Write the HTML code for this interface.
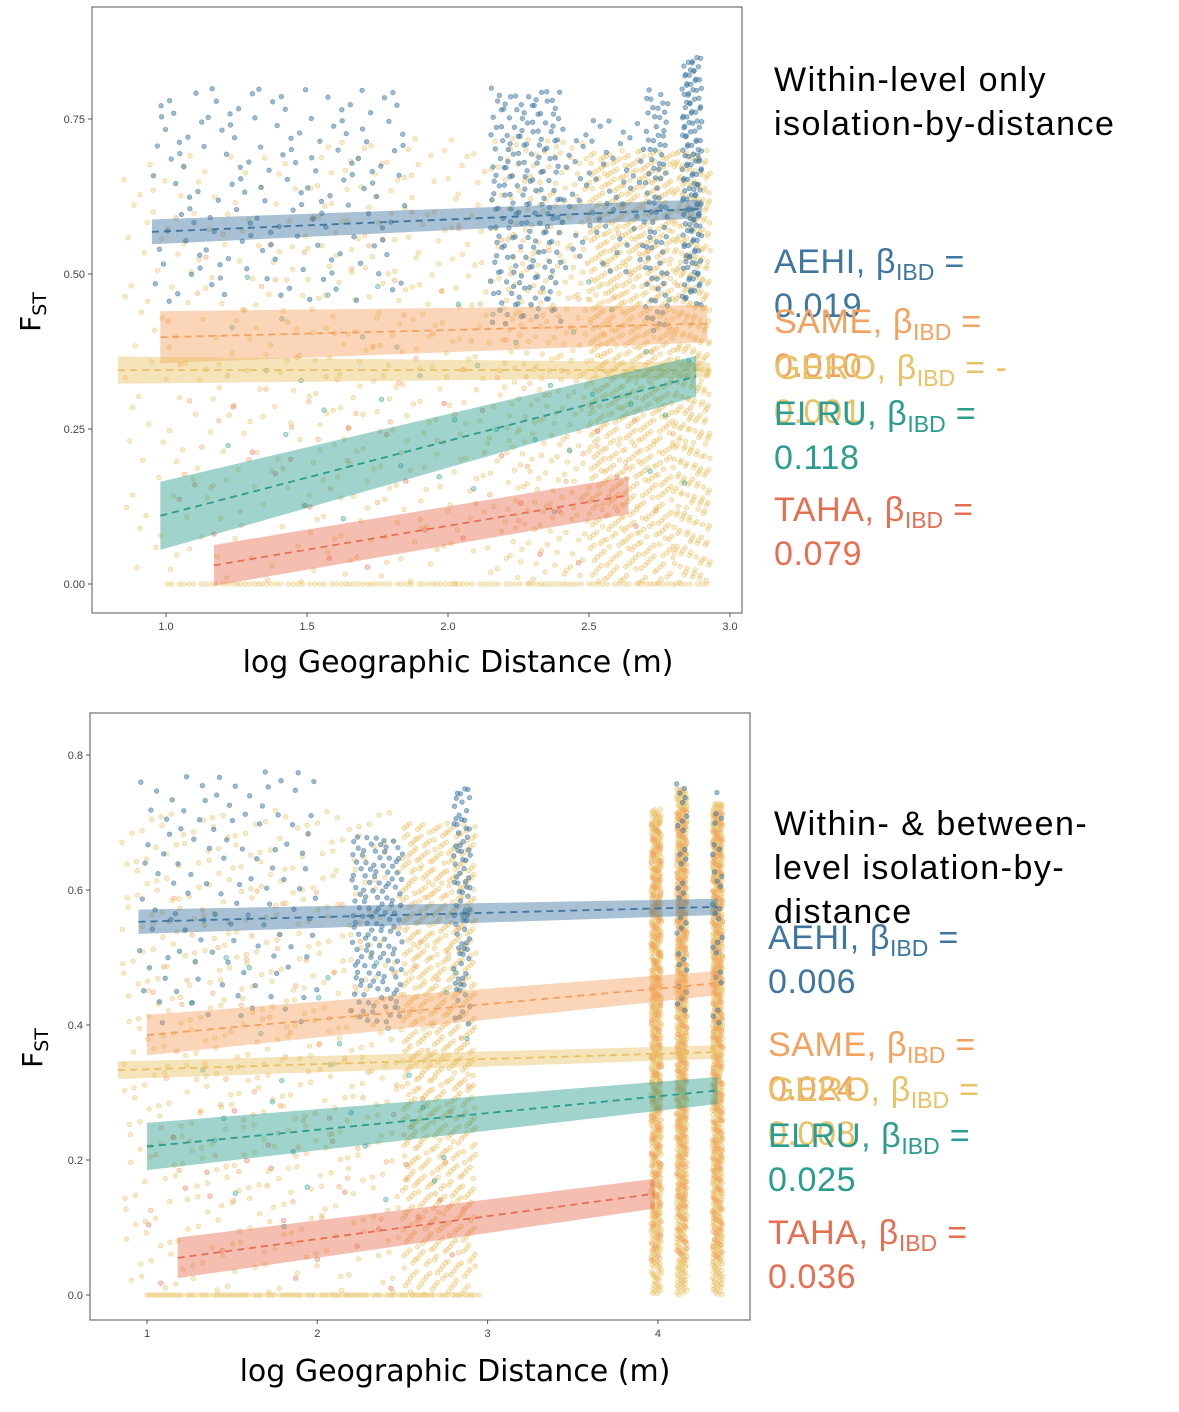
<!DOCTYPE html>
<html><head><meta charset="utf-8">
<style>
body{margin:0;width:1179px;height:1412px;background:#fff;position:relative;overflow:hidden;font-family:"Liberation Sans",sans-serif}
.lbl{position:absolute;font-size:34px;line-height:34px;white-space:nowrap;letter-spacing:0.6px}
.lbl sub{font-size:23px;vertical-align:-7px;letter-spacing:0}
.ttl{position:absolute;font-size:34px;line-height:44px;color:#000;left:774px;white-space:nowrap;letter-spacing:1.5px}
svg{position:absolute;left:0;top:0}
</style></head><body>
<svg id="chart" width="1179" height="1412"></svg>
<div class="ttl" style="top:58px">Within-level only<br>isolation-by-distance</div>
<div class="ttl" style="top:802px">Within- &amp; between-<br>level isolation-by-<br>distance</div>
<div class="lbl" style="left:774px;top:245px;color:#3e76a0">AEHI, β<sub>IBD</sub> =<br>0.019</div>
<div class="lbl" style="left:774px;top:305px;color:#f3a15f">SAME, β<sub>IBD</sub> =<br>0.010</div>
<div class="lbl" style="left:774px;top:351px;color:#e8c264">GERO, β<sub>IBD</sub> = -<br>0.001</div>
<div class="lbl" style="left:774px;top:397px;color:#2a9d8f">ELRU, β<sub>IBD</sub> =<br>0.118</div>
<div class="lbl" style="left:774px;top:493px;color:#e76f51">TAHA, β<sub>IBD</sub> =<br>0.079</div>
<div class="lbl" style="left:768px;top:921px;color:#3e76a0">AEHI, β<sub>IBD</sub> =<br>0.006</div>
<div class="lbl" style="left:768px;top:1028px;color:#f3a15f">SAME, β<sub>IBD</sub> =<br>0.024</div>
<div class="lbl" style="left:768px;top:1073px;color:#e8c264">GERO, β<sub>IBD</sub> =<br>0.008</div>
<div class="lbl" style="left:768px;top:1119px;color:#2a9d8f">ELRU, β<sub>IBD</sub> =<br>0.025</div>
<div class="lbl" style="left:768px;top:1216px;color:#e76f51">TAHA, β<sub>IBD</sub> =<br>0.036</div>
<script>
// ---- data ----
const colors = {AEHI:"#3e76a0",SAME:"#f3a15f",GERO:"#e8c264",ELRU:"#2a9d8f",TAHA:"#e76f51"};
const species = ["AEHI","SAME","GERO","ELRU","TAHA"];
const p1xTicks = [1.0,1.5,2.0,2.5,3.0];
const p1xTickLabels = ["1.0","1.5","2.0","2.5","3.0"];
const p1yTicks = [0,0.25,0.5,0.75];
const p1yTickLabels = ["0.00","0.25","0.50","0.75"];
const p2xTicks = [1,2,3,4];
const p2xTickLabels = ["1","2","3","4"];
const p2yTicks = [0,0.2,0.4,0.6,0.8];
const p2yTickLabels = ["0.0","0.2","0.4","0.6","0.8"];
// regression fits: [x0, x1, y0, y1, halfwidth0, halfwidth1]
const p1Fits = {
 AEHI:[0.95,2.9,0.568,0.605,0.02,0.015],
 SAME:[0.98,2.92,0.398,0.42,0.042,0.03],
 GERO:[0.83,2.93,0.345,0.345,0.022,0.012],
 ELRU:[0.98,2.88,0.11,0.335,0.055,0.033],
 TAHA:[1.17,2.64,0.03,0.143,0.033,0.03]};
const p2Fits = {
 AEHI:[0.95,4.35,0.553,0.575,0.018,0.012],
 SAME:[1.0,4.35,0.385,0.462,0.03,0.018],
 GERO:[0.83,4.35,0.333,0.36,0.013,0.01],
 ELRU:[1.0,4.35,0.22,0.303,0.035,0.02],
 TAHA:[1.18,3.98,0.055,0.15,0.03,0.022]};
// point clouds (estimated density regions): [x0,x1,count,y0,y1,species]
const p1Clouds = [
 [0.85,1.5,150,0,0.7,"GERO"],[1.5,2.2,260,0,0.72,"GERO"],[2.2,2.5,280,0,0.72,"GERO"],
 [2.5,2.8,850,0,0.7,"GERO"],[2.8,2.93,380,0,0.7,"GERO"],[1.0,2.93,110,0,0,"GERO"],
 [1.0,2.9,90,0.1,0.6,"SAME"],[1.2,2.9,40,0.1,0.5,"ELRU"],[1.0,2.7,25,0,0.3,"TAHA"],
 [0.95,1.85,150,0.45,0.8,"AEHI"],[2.15,2.4,190,0.42,0.8,"AEHI"],[2.4,2.7,60,0.5,0.75,"AEHI"],
 [2.7,2.78,80,0.4,0.8,"AEHI"],[2.83,2.9,150,0.45,0.85,"AEHI"]];
const p2Clouds = [
 [0.85,2.5,480,0,0.72,"GERO"],[2.5,2.93,750,0,0.7,"GERO"],[1.0,2.95,110,0,0,"GERO"],
 [3.96,4.02,600,0,0.72,"GERO"],[4.11,4.17,700,0,0.75,"GERO"],[4.32,4.38,700,0,0.73,"GERO"],
 [3.96,4.02,200,0.05,0.7,"SAME"],[4.11,4.17,220,0.05,0.72,"SAME"],[4.32,4.38,220,0.05,0.72,"SAME"],
 [1.0,2.9,90,0.1,0.6,"SAME"],[1.2,2.9,30,0.1,0.5,"ELRU"],[1.0,2.8,25,0,0.3,"TAHA"],
 [0.95,2.0,110,0.4,0.78,"AEHI"],[2.2,2.5,140,0.4,0.68,"AEHI"],[2.8,2.9,80,0.4,0.75,"AEHI"],
 [4.11,4.17,30,0.4,0.77,"AEHI"],[4.32,4.38,25,0.4,0.75,"AEHI"]];
// ---- drawing ----
const NS="http://www.w3.org/2000/svg";
const svg=document.getElementById('chart');
function mk(tag,attrs,parent){const e=document.createElementNS(NS,tag);for(const k in attrs)e.setAttribute(k,attrs[k]);(parent||svg).appendChild(e);return e;}
function halton(i,b){let f=1,r=0;while(i>0){f/=b;r+=f*(i%b);i=Math.floor(i/b);}return r;}
function panel(cfg){
 const g=mk('g',{});
 
 
 const X=v=>cfg.px0+(v-cfg.xv0)*cfg.sx, Y=v=>cfg.py0-(v-cfg.yv0)*cfg.sy;
 const box=mk('rect',{x:cfg.bx,y:cfg.by,width:cfg.bw,height:cfg.bh,fill:'#fff',stroke:'#555','stroke-width':1},g);
 
 
 const pts=mk('g',{},g);
 
 
 let idx=17;
 cfg.clouds.forEach(c=>{
  const [x0,x1,n,y0,y1,sp]=c;
  for(let i=0;i<n;i++,idx++){
   const u=halton(idx,5),w=halton(idx,7);
   const cx=X(x0+(x1-x0)*u), cy=Y(y0+(y1-y0)*Math.pow(w,0.9));
   const p=mk('circle',{cx:cx.toFixed(1),cy:cy.toFixed(1),r:2.3,fill:colors[sp],'fill-opacity':sp==="AEHI"?0.5:0.35,stroke:colors[sp],'stroke-opacity':0.6,'stroke-width':0.7},pts);
   
   
  }
 });
 species.forEach(sp=>{
  const [x0,x1,y0,y1,h0,h1]=cfg.fits[sp];
  const band=mk('polygon',{points:`${X(x0)},${Y(y0+h0)} ${X(x1)},${Y(y1+h1)} ${X(x1)},${Y(y1-h1)} ${X(x0)},${Y(y0-h0)}`,fill:colors[sp],'fill-opacity':0.45},g);
  
  
  const ln=mk('line',{x1:X(x0),y1:Y(y0),x2:X(x1),y2:Y(y1),stroke:colors[sp],'stroke-width':1.8,'stroke-dasharray':'7,5'},g);
  
  
 });
 cfg.xt.forEach((v,i)=>{
  mk('line',{x1:X(v),x2:X(v),y1:cfg.by+cfg.bh,y2:cfg.by+cfg.bh+4,stroke:'#555'},g);
  const t=mk('text',{x:X(v),y:cfg.by+cfg.bh+17,'font-size':11,fill:'#444','text-anchor':'middle','font-family':'Liberation Sans'},g);
  t.textContent=cfg.xl[i];
  
  
 });
 cfg.yt.forEach((v,i)=>{
  mk('line',{x1:cfg.bx-4,x2:cfg.bx,y1:Y(v),y2:Y(v),stroke:'#555'},g);
  const t=mk('text',{x:cfg.bx-7,y:Y(v)+4,'font-size':11,fill:'#444','text-anchor':'end','font-family':'Liberation Sans'},g);
  t.textContent=cfg.yl[i];
  
  
 });
 const xt=mk('text',{x:cfg.xtx,y:cfg.xty,'font-size':30,fill:'#000','text-anchor':'middle','font-family':'DejaVu Sans'},g);
 xt.textContent='log Geographic Distance (m)';
 
 
 const yt=mk('text',{x:0,y:0,'font-size':28,fill:'#000','text-anchor':'middle','font-family':'DejaVu Sans',transform:`translate(${cfg.ytx},${cfg.yty}) rotate(-90)`},g);
 yt.innerHTML='F<tspan font-size="19" dy="6">ST</tspan>';
 
 
}
panel({name:'panel-within-level',bx:92,by:7,bw:650,bh:606,px0:166,xv0:1,sx:282,py0:584,yv0:0,sy:620,
 clouds:p1Clouds,fits:p1Fits,xt:p1xTicks,xl:p1xTickLabels,yt:p1yTicks,yl:p1yTickLabels,xtx:458,xty:672,ytx:40,yty:312});
panel({name:'panel-within-between-level',bx:90,by:713,bw:660,bh:607,px0:147,xv0:1,sx:170.3,py0:1295,yv0:0,sy:675,
 clouds:p2Clouds,fits:p2Fits,xt:p2xTicks,xl:p2xTickLabels,yt:p2yTicks,yl:p2yTickLabels,xtx:455,xty:1381,ytx:42,yty:1048});
</script>
</body></html>
